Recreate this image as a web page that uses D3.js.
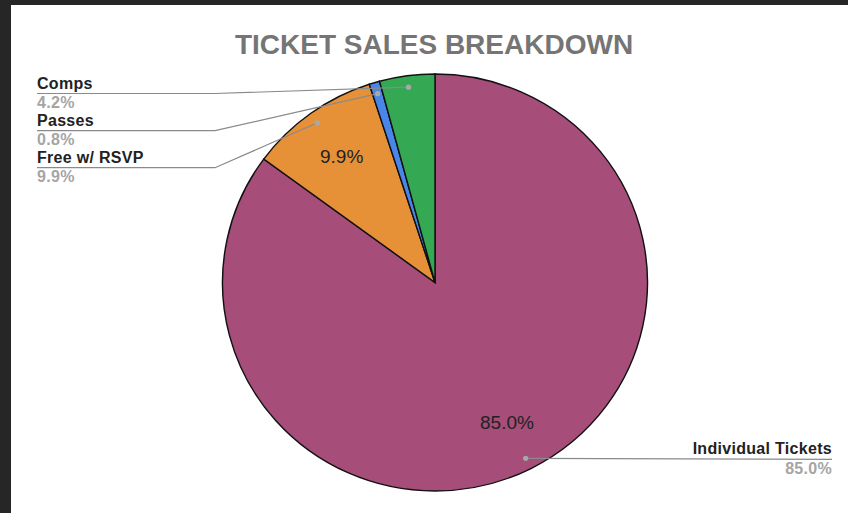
<!DOCTYPE html>
<html>
<head>
<meta charset="utf-8">
<script src="https://cdn.jsdelivr.net/npm/d3@7"></script>
<style>
  html, body { margin: 0; padding: 0; background: #262626; }
  svg { display: block; }
</style>
</head>
<body>
<div id="chart"></div>
<script>
// data, clockwise from 12 o'clock
const categories = ['Individual Tickets', 'Free w/ RSVP', 'Passes', 'Comps']
const values = [85.0, 9.9, 0.8, 4.2]
const pctLabels = ['85.0%', '9.9%', '0.8%', '4.2%']
const colors = ['#a64d79', '#e69138', '#4a86e8', '#34a853']

const width = 848
const height = 513
const cx = 435, cy = 282.5
const r = 208.5
const sx = 212.5 / 208.5   // reference pie is a touch wider than tall

const svg = d3.select('#chart').append('svg')
  .attr('width', width)
  .attr('height', height)

svg.append('rect')
  .attr('x', 11).attr('y', 5)
  .attr('width', width - 11).attr('height', height - 5)
  .attr('fill', '#ffffff')

svg.append('text')
  .attr('x', 434).attr('y', 53.5)
  .attr('text-anchor', 'middle')
  .attr('font-family', 'Liberation Sans, Arial, sans-serif')
  .attr('font-weight', 'bold')
  .attr('font-size', 28)
  .attr('fill', '#757575')
  .text('TICKET SALES BREAKDOWN')

const data = categories.map((c, i) => ({ name: c, value: values[i], pct: pctLabels[i], color: colors[i] }))

const pie = d3.pie().sort(null).value(d => d.value)
const arcs = pie(data)

const arc = d3.arc().innerRadius(0).outerRadius(r)
const labelArc = d3.arc().innerRadius(r * 0.75).outerRadius(r * 0.75)
const dotArc = d3.arc().innerRadius(r * 0.945).outerRadius(r * 0.945)

const pieG = svg.append('g')
  .attr('transform', `translate(${cx},${cy}) scale(${sx},1)`)

pieG.selectAll('path')
  .data(arcs)
  .enter().append('path')
  .attr('d', arc)
  .attr('fill', d => d.data.color)
  .attr('stroke', '#111')
  .attr('stroke-width', 1.4)

// position helper: pie coords -> page coords
const toPage = p => [cx + p[0] * sx, cy + p[1]]

// in-slice labels (only the two bigger slices)
svg.selectAll('.inlabel')
  .data(arcs.filter(d => d.data.value > 5))
  .enter().append('text')
  .attr('class', 'inlabel')
  .attr('x', d => toPage(labelArc.centroid(d))[0])
  .attr('y', d => toPage(labelArc.centroid(d))[1] + 7)
  .attr('text-anchor', 'middle')
  .attr('font-family', 'Liberation Sans, Arial, sans-serif')
  .attr('font-size', 19)
  .attr('fill', '#222')
  .text(d => d.data.pct)

// outside labels layout
const leftX = 37, kneeX = 215, rightX = 832
const leftLineY = { 'Comps': 93.5, 'Passes': 130.7, 'Free w/ RSVP': 167.7 }
const rightLineY = { 'Individual Tickets': 459.3 }

const callouts = svg.append('g')

arcs.forEach(d => {
  const dot = toPage(dotArc.centroid(d))
  const isLeft = d.data.name in leftLineY
  const ly = isLeft ? leftLineY[d.data.name] : rightLineY[d.data.name]
  let pts
  if (isLeft) {
    pts = [[leftX, ly], [kneeX, ly], dot]
  } else {
    pts = [dot, [rightX, ly]]
  }
  callouts.append('path')
    .attr('d', d3.line()(pts))
    .attr('fill', 'none')
    .attr('stroke', '#8a8a8a')
    .attr('stroke-width', 1.2)
  callouts.append('circle')
    .attr('cx', dot[0]).attr('cy', dot[1])
    .attr('r', 2.6)
    .attr('fill', '#a8a8a8')

  const tx = isLeft ? leftX : rightX
  const anchor = isLeft ? 'start' : 'end'
  callouts.append('text')
    .attr('x', tx).attr('y', ly - 5)
    .attr('text-anchor', anchor)
    .attr('font-family', 'Liberation Sans, Arial, sans-serif')
    .attr('font-weight', 'bold')
    .attr('font-size', 16)
    .attr('letter-spacing', 0.3)
    .attr('fill', '#222')
    .text(d.data.name)
  callouts.append('text')
    .attr('x', tx).attr('y', ly + 14.5)
    .attr('text-anchor', anchor)
    .attr('font-family', 'Liberation Sans, Arial, sans-serif')
    .attr('font-weight', 'bold')
    .attr('font-size', 16)
    .attr('letter-spacing', 0.3)
    .attr('fill', '#a5a5a5')
    .text(d.data.pct)
})
</script>
</body>
</html>
